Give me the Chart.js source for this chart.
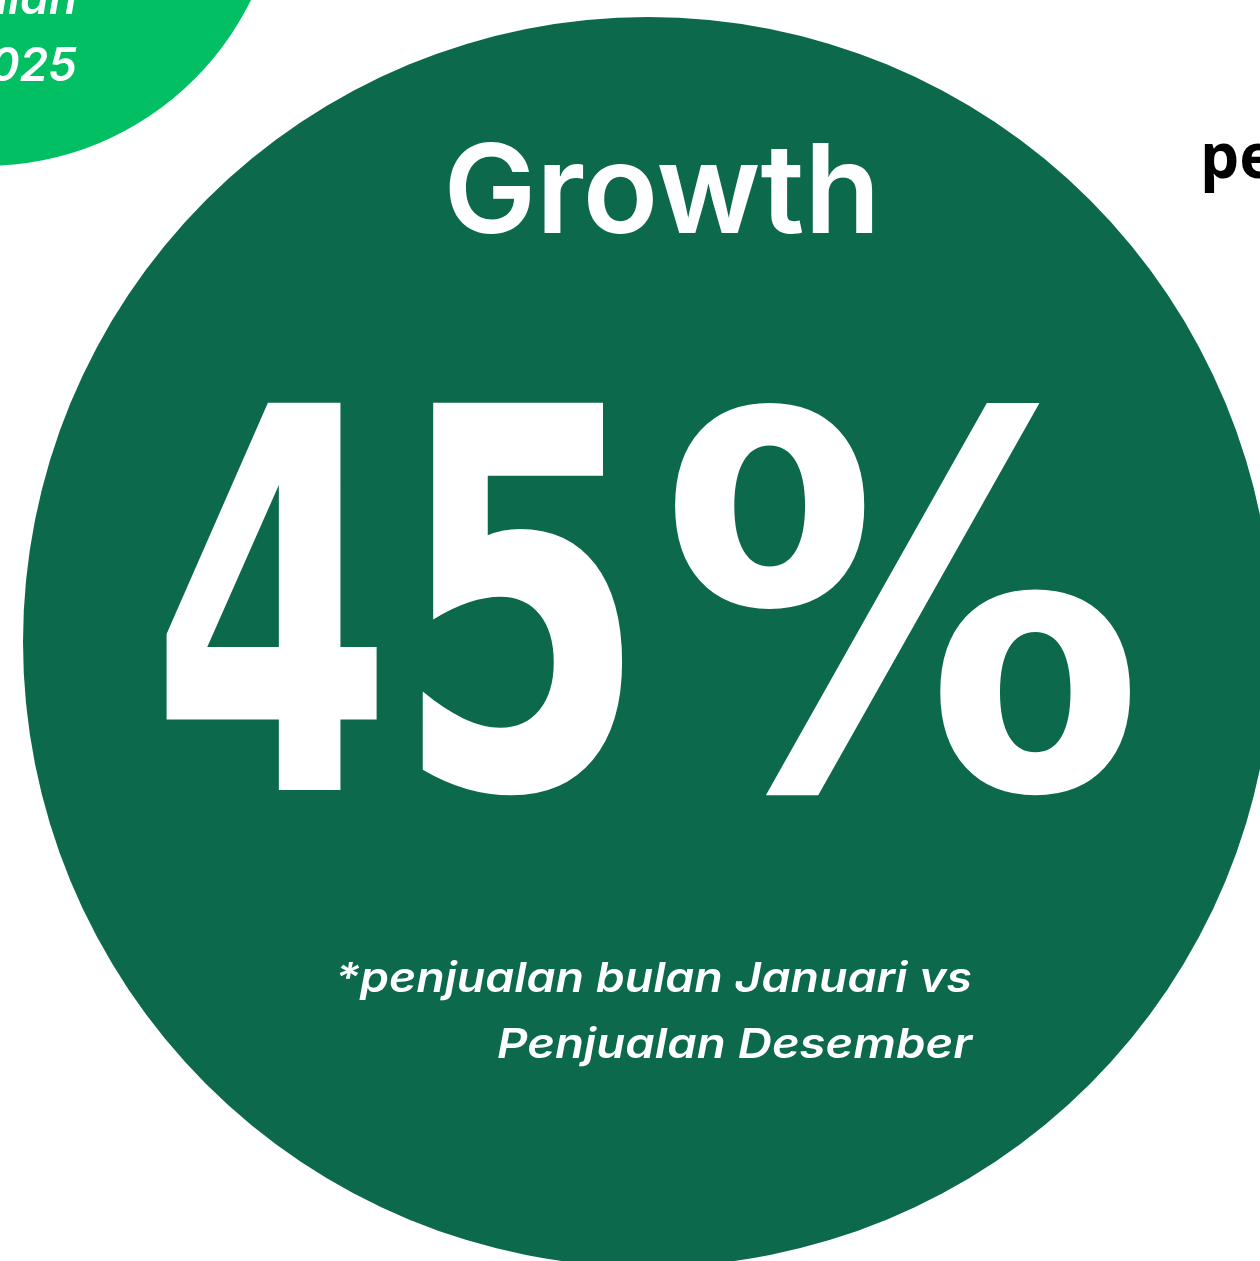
<!DOCTYPE html>
<html><head><meta charset="utf-8">
<script src="https://cdn.jsdelivr.net/npm/chart.js@4.4.1/dist/chart.umd.min.js"></script>
<style>html,body{margin:0;padding:0;background:#fff;overflow:hidden}#wrap{width:1260px;height:1261px;position:relative}</style>
</head><body><div id="wrap"><canvas id="c"></canvas></div>
<script>
// Data
const growthLabel = "Growth";
const growthValue = [45];
const footnoteLines = ["*penjualan bulan Januari vs", "Penjualan Desember"];
const cornerLines = ["Penjualan", "Januari 2025"];
const rightLabel = ["penjualan"];
const circleNames = ["main", "corner"];

const DARK = "#0c694b";
const BRIGHT = "#03bf64";

function fitText(ctx, txt, xRight, y, width) {
  const w = ctx.measureText(txt).width;
  ctx.save();
  ctx.translate(xRight, y);
  ctx.scale(width / w, 1);
  ctx.textAlign = "right";
  ctx.fillText(txt, 0, 0);
  ctx.restore();
}

function boxText(ctx, ch, x0, y0, x1, y1) {
  ctx.textAlign = "left";
  const m = ctx.measureText(ch);
  const w = m.actualBoundingBoxRight + m.actualBoundingBoxLeft;
  const h = m.actualBoundingBoxAscent + m.actualBoundingBoxDescent;
  ctx.save();
  ctx.translate(x0, y0);
  ctx.scale((x1 - x0) / w, (y1 - y0) / h);
  ctx.fillText(ch, m.actualBoundingBoxLeft, m.actualBoundingBoxAscent);
  ctx.restore();
}

const textPlugin = {
  id: "texts",
  afterDatasetsDraw(chart) {
    const ctx = chart.ctx;
    ctx.save();
    ctx.fillStyle = "#fff";
    ctx.textBaseline = "alphabetic";
    // corner text
    ctx.textAlign = "right";
    ctx.font = "italic 600 46px Inter";
    ctx.fillText(cornerLines[0], 77, 14);
    ctx.fillText(cornerLines[1], 77, 81);
    // right label
    ctx.fillStyle = "#000";
    ctx.textAlign = "left";
    ctx.font = "700 62px 'Open Sans'";
    ctx.fillText(rightLabel[0], 1200, 178);
    // Growth
    ctx.fillStyle = "#fff";
    ctx.textAlign = "center";
    ctx.font = "600 124px Inter";
    ctx.fillText(growthLabel, 662, 233);
    // 45% : each glyph fitted to its box
    const chars = (growthValue[0] + "%").split("");
    const boxes = [[163, 400, 380, 790], [420, 400, 628, 796], [668, 399, 1131, 796]];
    ctx.font = "bold 500px 'DejaVu Sans Condensed'";
    chars.forEach((ch, i) => boxText(ctx, ch, ...boxes[i]));
    // footnote
    ctx.font = "italic 600 41px Inter";
    fitText(ctx, footnoteLines[0], 972, 992, 637);
    fitText(ctx, footnoteLines[1], 972, 1058, 475);
    ctx.restore();
  }
};

new Chart(document.getElementById("c"), {
  type: "bubble",
  data: {
    datasets: [
      { label: circleNames[1], data: [{ x: -15, y: -130, r: 296 }], backgroundColor: BRIGHT, borderWidth: 0, clip: false },
      { label: circleNames[0], data: [{ x: 648, y: 642, r: 625 }], backgroundColor: DARK, borderWidth: 0, clip: false }
    ]
  },
  options: {
    responsive: true,
    maintainAspectRatio: false,
    animation: false,
    events: [],
    layout: { padding: 0, autoPadding: false },
    plugins: { legend: { display: false }, tooltip: { enabled: false } },
    scales: {
      x: { type: "linear", min: 0, max: 1260, display: false },
      y: { type: "linear", min: 0, max: 1261, reverse: true, display: false }
    }
  },
  plugins: [textPlugin]
});
</script></body></html>
